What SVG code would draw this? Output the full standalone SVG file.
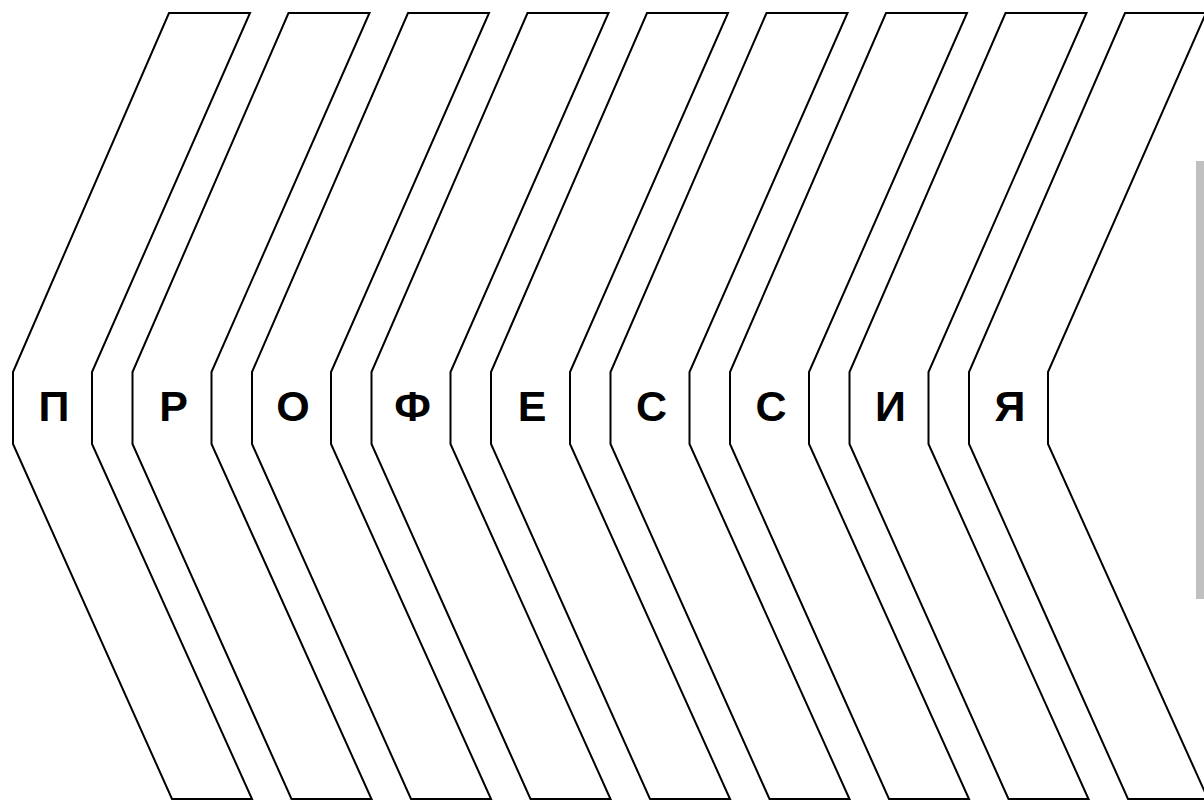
<svg xmlns="http://www.w3.org/2000/svg" width="1204" height="801" viewBox="0 0 1204 801">
<defs>
<style>
.ch{fill:#fff;stroke:#000;stroke-width:2;stroke-linejoin:miter}
.lt{font-family:"Liberation Sans",Arial,sans-serif;font-weight:bold;font-size:43px;fill:#000;text-anchor:middle}
</style>
<polygon id="chev" class="ch" points="169,13 250,13 92,372 92,444 252,799 172,799 13,444 13,372"/>
</defs>
<rect width="1204" height="801" fill="#fff"/>
<g id="node-1"><use href="#chev"/><text class="lt" x="54" y="421">П</text></g>
<g id="node-2" transform="translate(119.5,0)"><use href="#chev"/><text class="lt" x="54" y="421">Р</text></g>
<g id="node-3" transform="translate(239,0)"><use href="#chev"/><text class="lt" x="54" y="421">О</text></g>
<g id="node-4" transform="translate(358.5,0)"><use href="#chev"/><text class="lt" x="54" y="421">Ф</text></g>
<g id="node-5" transform="translate(478,0)"><use href="#chev"/><text class="lt" x="54" y="421">Е</text></g>
<g id="node-6" transform="translate(597.5,0)"><use href="#chev"/><text class="lt" x="54" y="421">С</text></g>
<g id="node-7" transform="translate(717,0)"><use href="#chev"/><text class="lt" x="54" y="421">С</text></g>
<g id="node-8" transform="translate(836.5,0)"><use href="#chev"/><text class="lt" x="54" y="421">И</text></g>
<g id="node-9" transform="translate(956,0)"><use href="#chev"/><text class="lt" x="54" y="421">Я</text></g>
<g id="connectors"></g>
<rect id="side-bar" x="1196" y="161" width="8" height="438" fill="#c0c0c0"/>
</svg>
